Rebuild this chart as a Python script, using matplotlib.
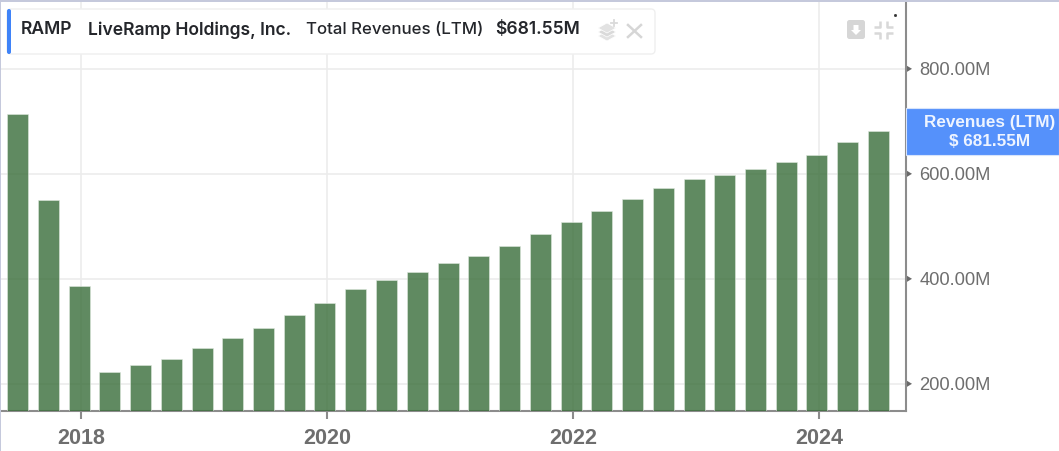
import matplotlib
matplotlib.use("Agg")
from matplotlib import pyplot as plt
from matplotlib.patches import FancyBboxPatch, Rectangle, Polygon
import matplotlib.dates as mdates
import pandas as pd

W, H = 1059, 451

quarters = pd.date_range("2017-06-30", "2024-06-30", freq="QE")
revenues = [713.3, 549.5, 385.7, 221.9, 236.2, 247.6, 268.6, 286.7, 306.7, 331.4,
            354.3, 381.0, 398.1, 413.3, 429.5, 442.9, 462.9, 485.7, 507.6, 529.5,
            552.4, 572.4, 589.5, 597.1, 608.6, 621.9, 636.2, 660.0, 681.55]
y_ticks = [200, 400, 600, 800]
y_tick_labels = ["200.00M", "400.00M", "600.00M", "800.00M"]
x_years = [2018, 2020, 2022, 2024]

ticker = "RAMP"
company = "LiveRamp Holdings, Inc."
metric = "Total Revenues (LTM)"
metric_value = "$681.55M"
badge_lines = ["Revenues (LTM)", "$ 681.55M"]

GREY = "#6e6e6e"
AXIS = "#8c8c8c"
GRID = "#ececec"
BLUE = "#5591fb"
Y_MIN, Y_MAX = 148.2, 927.3

fig = plt.figure(figsize=(W / 100, H / 100), dpi=100, facecolor="white")

# main axes, placed by pixels
left, right, top, bottom = 1, 906, 2, 411
ax = fig.add_axes([left / W, 1 - bottom / H, (right - left) / W, (bottom - top) / H])
ax.set_facecolor("white")

# 2018 at px 81, 123 px per year
def year_num(y):
    return mdates.date2num(pd.Timestamp(f"{y}-01-01"))

px_per_day = 123 / 365.25
ax.set_xlim(year_num(2018) - (81 - left) / px_per_day,
            year_num(2018) + (right - 81) / px_per_day)
ax.set_ylim(Y_MIN, Y_MAX)

tick_x = [year_num(y) for y in x_years]
bar_x = mdates.date2num(quarters) - 1.5 / px_per_day
ax.set_axisbelow(True)
ax.bar(bar_x, revenues, width=21 / px_per_day, bottom=0, color="#386d39", alpha=0.8,
       edgecolor="#dfe8df", linewidth=0.5, zorder=3)

ax.set_xticks(tick_x, labels=[str(y) for y in x_years])
ax.set_yticks(y_ticks, labels=y_tick_labels)
ax.yaxis.tick_right()
ax.grid(True, color=GRID, linewidth=1.2)
ax.tick_params(axis="x", length=6, width=1.5, color=AXIS, labelcolor=GREY, labelsize=15.5, pad=6)
ax.tick_params(axis="y", length=0, labelcolor=GREY, labelsize=13.2, pad=9.5)
for lab in ax.get_xticklabels():
    lab.set_fontfamily("Liberation Sans")
    lab.set_fontweight("bold")
for lab in ax.get_yticklabels():
    lab.set_fontfamily("Liberation Sans")

for s in ["top", "left"]:
    ax.spines[s].set_visible(False)
for s in ["right", "bottom"]:
    ax.spines[s].set_color(AXIS)
    ax.spines[s].set_linewidth(1.5)

# overlay in pixel coordinates for legend, badge and icons
ov = fig.add_axes([0, 0, 1, 1], zorder=5)
ov.set_xlim(0, W)
ov.set_ylim(H, 0)
ov.axis("off")
ov.patch.set_alpha(0)

# outer frame
ov.add_patch(Rectangle((0, 0), W, 2, color="#c5c9dc", lw=0))
ov.add_patch(Rectangle((0, 0), 1, H, color="#c5c9dc", lw=0))

# legend box
ov.add_patch(FancyBboxPatch((7, 9), 648, 45, boxstyle="round,pad=0,rounding_size=4",
                            fc="white", ec="#efefef", lw=1))
ov.add_patch(FancyBboxPatch((7, 9), 4, 45, boxstyle="round,pad=0,rounding_size=2",
                            fc="#3f83f8", ec="none"))
text_kw = dict(family="Inter", fontsize=12.6, color="#24262b", va="center", fontweight="semibold")
ov.text(21, 30, ticker, **text_kw)
ov.text(88, 30, company, **text_kw)
ov.text(306, 30, metric, family="Inter", fontsize=12.1, color="#24262b", va="center", fontweight="medium")
ov.text(495, 30, metric_value, **text_kw)

# layers icon
for dy, c in [(8, "#e2e2e2"), (4, "#dadada"), (0, "#e2e2e2")]:
    ov.add_patch(Polygon([(598, 28 + dy), (607, 23 + dy), (616, 28 + dy), (607, 33 + dy)],
                         closed=True, fc=c, ec="white", lw=0.5))
ov.plot([611, 617], [23, 23], color="#dadada", lw=1.3)
ov.plot([614, 614], [20, 26], color="#dadada", lw=1.3)
# close cross
ov.plot([628, 641], [25, 37], color="#d6d6d6", lw=1.8)
ov.plot([628, 641], [37, 25], color="#d6d6d6", lw=1.8)

# download icon
ov.add_patch(FancyBboxPatch((847, 20), 18, 19, boxstyle="round,pad=0,rounding_size=2.5",
                            fc="#d6d6d6", ec="none"))
ov.add_patch(Polygon([(853.5, 25), (858.5, 25), (858.5, 30), (861, 30), (856, 35), (851, 30), (853.5, 30)],
                     closed=True, fc="white", ec="none"))
# compress icon
for sx, sy in [(-1, -1), (1, -1), (-1, 1), (1, 1)]:
    cx, cy = 883 + sx * 3.5, 29.5 + sy * 3
    ov.plot([cx + sx * 6, cx, cx], [cy, cy, cy + sy * 6], color="#d8d8d8", lw=1.8, solid_capstyle="butt")
ov.plot([894.5], [15], marker="s", ms=1.0, color="#333333")

# y tick arrows
for y in y_ticks:
    py = bottom - (y - Y_MIN) * (bottom - top) / (Y_MAX - Y_MIN)
    ov.add_patch(Polygon([(907, py - 3), (912, py), (907, py + 3)], closed=True, fc="#6a6a6a", ec="none"))

# current value badge
ov.add_patch(Rectangle((906, 108), 153, 47, fc=BLUE, ec="#d7e4fb", lw=0.8))
ov.text(990, 122, badge_lines[0], family="Liberation Sans", fontsize=12.3, fontweight="bold",
        color="#eef4ff", ha="center", va="center")
ov.text(990, 141, badge_lines[1], family="Liberation Sans", fontsize=12.3, fontweight="bold",
        color="#eef4ff", ha="center", va="center")

fig.savefig("out.png", dpi=100)
